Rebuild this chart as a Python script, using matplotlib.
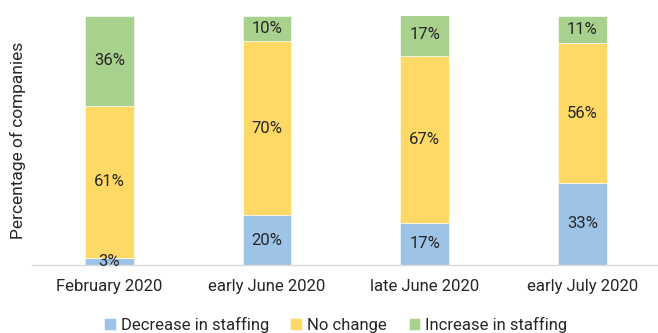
import numpy as np
import matplotlib
matplotlib.use('Agg')
import matplotlib.pyplot as plt

plt.rcParams['font.family'] = ['Roboto', 'DejaVu Sans']

periods = ['February 2020', 'early June 2020', 'late June 2020', 'early July 2020']
decrease = [3, 20, 17, 33]
no_change = [61, 70, 67, 56]
increase = [36, 10, 17, 11]

series_names = ['Decrease in staffing', 'No change', 'Increase in staffing']
colors = ['#9dc3e6', '#ffd966', '#a9d18e']
text_color = '#262626'

fig = plt.figure(figsize=(6.58, 3.33), dpi=100)
ax = fig.add_axes([32 / 658, 68 / 333, 626 / 658, 249 / 333])

x = np.arange(len(periods))
bottom = np.zeros(len(periods))
for name, vals, col in zip(series_names, [decrease, no_change, increase], colors):
    vals = np.array(vals, dtype=float)
    ax.bar(x, vals, width=0.31, bottom=bottom, color=col, label=name,
           edgecolor='white', linewidth=0.4)
    for xi, b, v in zip(x, bottom, vals):
        ax.text(xi, b + v / 2, f'{int(v)}%', ha='center', va='center',
                fontsize=12, color=text_color)
    bottom += vals

ax.set_xlim(-0.49, 3.48)
ax.set_ylim(0, 100)
ax.set_xticks(x)
ax.set_xticklabels(periods, fontsize=12, color=text_color)
ax.tick_params(axis='x', length=0, pad=10)
ax.set_yticks([])
for s in ['top', 'right', 'left']:
    ax.spines[s].set_visible(False)
ax.spines['bottom'].set_color('#d9d9d9')
ax.spines['bottom'].set_linewidth(1)

fig.text(18 / 658, 0.578, 'Percentage of companies', rotation=90,
         ha='center', va='center', fontsize=12.5, color=text_color)

fig.legend(loc='lower center', bbox_to_anchor=(0.51, -0.045), ncol=3,
           frameon=False, fontsize=12, handlelength=0.7, handleheight=0.7,
           handletextpad=0.3, columnspacing=1.3, labelcolor=text_color)

fig.savefig('out.png', dpi=100)
